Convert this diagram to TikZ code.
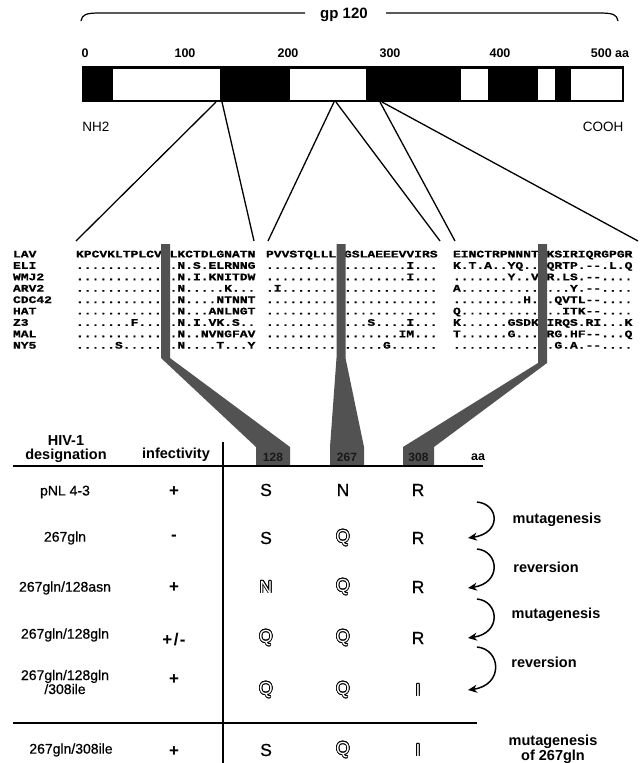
\documentclass[tikz,border=0pt]{standalone}
\usepackage{fontspec}
\setmainfont{Liberation Sans}
\newfontfamily\seqfont{Liberation Mono}[FakeStretch=1.3,BoldFeatures={FakeBold=1.2}]
\newfontfamily\heavyfont{Liberation Sans}[FakeBold=0.6]
\usetikzlibrary{arrows.meta}

% letter drawn as an outline: black copies around, white fill on top
\newcommand\outlined[1]{\leavevmode\rlap{\foreach \ang in {0,22.5,...,337.5}{\rlap{\kern\fpeval{round(0.75*cosd(\ang),3)}pt\raisebox{\fpeval{round(0.75*sind(\ang),3)}pt}{#1}}}}\textcolor{white}{#1}}

% one aligned sequence row: index, isolate name, three blocks
\newcommand\seqrow[5]{%
  \node[seq] (nm#1) at (13,{257.4+11.4*#1}) {#2};
  \node[seq] (ba#1) at (76,{257.4+11.4*#1}) {#3};
  \node[seq] (bb#1) at (266,{257.4+11.4*#1}) {#4};
  \node[seq] (bc#1) at (453,{257.4+11.4*#1}) {#5};
}

\begin{document}
\begin{tikzpicture}[x=1pt,y=-1pt,
  every node/.style={inner sep=0pt,outer sep=0pt},
  seq/.style={font=\seqfont\bfseries\fontsize{10}{10}\selectfont,anchor=base west},
  axislbl/.style={font=\bfseries\fontsize{12.5}{12.5}\selectfont},
  term/.style={font=\fontsize{13.5}{13.5}\selectfont},
  title/.style={font=\bfseries\fontsize{15}{15}\selectfont},
  link/.style={line width=1.3pt},
  band/.style={fill=black!68},
  celllbl/.style={font=\bfseries\fontsize{12}{12}\selectfont,text=black!90},
  hdr/.style={font=\bfseries\fontsize{14.5}{14.5}\selectfont,align=center},
  rowlbl/.style={font=\heavyfont\fontsize{14}{14}\selectfont,align=center},
  infect/.style={font=\bfseries\fontsize{17}{17}\selectfont},
  res/.style={font=\heavyfont\fontsize{17.5}{17.5}\selectfont},
  hres/.style={font=\fontsize{17.5}{17.5}\selectfont},
  rule/.style={line width=2pt},
  cyclearrow/.style={line width=1.5pt,-{Stealth[length=9pt,width=8pt]}},
  note/.style={font=\bfseries\fontsize{14.5}{15}\selectfont,align=center},
]
\useasboundingbox (0,0) rectangle (642,763);

% ---- gp120 brace
\node[title] (gp) at (344,15) {gp 120};
\coordinate (brl) at (81,21);
\coordinate (brr) at (618,21);
\coordinate (gpl) at (305,13);
\coordinate (gpr) at (386,13);
\draw[line width=1.2pt] (brl) .. controls (82,14.5) and (86,13) .. (100,13) -- (gpl);
\draw[line width=1.2pt] (gpr) -- (599,13) .. controls (613,13) and (617,14.5) .. (brr);

% ---- scale
\node[axislbl] (s0) at (85,53) {0};
\node[axislbl] (s100) at (185,53) {100};
\node[axislbl] (s200) at (288,53) {200};
\node[axislbl] (s300) at (390,53) {300};
\node[axislbl] (s400) at (500,53) {400};
\node[axislbl] (s500) at (610,53) {500 aa};

% ---- gp120 bar with variable (black) and conserved (white) regions
\fill (82,66) rectangle (624,102);
\fill[white] (113,68.5) rectangle (220,99.5);
\fill[white] (290,68.5) rectangle (366,99.5);
\fill[white] (461,68.5) rectangle (488,99.5);
\fill[white] (538,68.5) rectangle (555,99.5);
\fill[white] (571,68.5) rectangle (622,99.5);
\node[term] (nterm) at (96,127) {NH2};
\node[term] (cterm) at (603,127) {COOH};

% ---- links from the bar to the sequence blocks
\coordinate (t1) at (216,102); \coordinate (e1) at (76,241);
\coordinate (t2) at (222,102); \coordinate (e2) at (254,241);
\coordinate (t3) at (334,102); \coordinate (e3) at (268,241);
\coordinate (t4) at (336,102); \coordinate (e4) at (440,241);
\coordinate (t5) at (380,102); \coordinate (e5) at (455,241);
\coordinate (t6) at (382,102); \coordinate (e6) at (638,241);
\foreach \k in {1,...,6} \draw[link] (t\k) -- (e\k);

% ---- sequence alignment
\seqrow{0}{LAV}{{KPCVKLTPLCV}{S}{LKCTDLGNATN}}{{PVVSTQLLL}{N}{GSLAEEEVVIRS}}{{EINCTRPNNNT}{R}{KSIRIQRGPGR}}
\seqrow{1}{ELI}{{...........}{.}{.N.S.ELRNNG}}{{.........}{.}{........I...}}{{K.T.A..YQ..}{.}{QRTP.--.L.Q}}
\seqrow{2}{WMJ2}{{...........}{.}{.N.I.KNITDW}}{{.........}{.}{........I...}}{{.......Y..V}{.}{R.LS.--....}}
\seqrow{3}{ARV2}{{...........}{.}{.N.....K...}}{{.I.......}{.}{............}}{{A..........}{.}{...Y.--....}}
\seqrow{4}{CDC42}{{...........}{.}{.N....NTNNT}}{{.........}{.}{............}}{{.........H.}{.}{.QVTL--....}}
\seqrow{5}{HAT}{{...........}{.}{.N...ANLNGT}}{{.........}{.}{............}}{{Q..........}{.}{..ITK--....}}
\seqrow{6}{Z3}{{.......F...}{.}{.N.I.VK.S..}}{{.........}{.}{...S....I...}}{{K......GSDK}{.}{IRQS.RI...K}}
\seqrow{7}{MAL}{{...........}{.}{.N..NVNGFAV}}{{.........}{.}{.......IM...}}{{T......G...}{.}{RG.HF--...Q}}
\seqrow{8}{NY5}{{.....S.....}{.}{.N....T...Y}}{{.........}{.}{.....G......}}{{...........}{.}{.G.A.--....}}

% ---- highlighted positions funnelled down to the table columns
\fill[band] (161,244) -- (170,244) -- (170,358) -- (290,447) -- (290,466)
  -- (256,466) -- (256,447) -- (161,358) -- cycle;
\fill[band] (336.5,244) -- (345.5,244) -- (345.5,358) -- (364,447) -- (364,466)
  -- (330,466) -- (330,447) -- (336.5,358) -- cycle;
\fill[band] (538,244) -- (547,244) -- (547,363) -- (434,447) -- (434,466)
  -- (403,466) -- (403,447) -- (538,363) -- cycle;
\node[celllbl] (c128) at (273,457) {128};
\node[celllbl] (c267) at (347,457) {267};
\node[celllbl] (c308) at (418.5,457) {308};
\node[axislbl] (aa) at (478,457) {aa};

% ---- table
\node[hdr] (hdes) at (66,449) {HIV-1\\designation};
\node[hdr] (hinf) at (176,455) {infectivity};
\coordinate (vtop) at (223,442); \coordinate (vbot) at (223,763);
\coordinate (h1l) at (13,466); \coordinate (h1r) at (483,466);
\coordinate (h2l) at (13,723); \coordinate (h2r) at (477,723);
\draw[rule] (vtop) -- (vbot);
\draw[rule] (h1l) -- (h1r);
\draw[rule] (h2l) -- (h2r);

\node[rowlbl] (r1) at (65,492) {pNL 4-3};
\node[rowlbl] (r2) at (65,538) {267gln};
\node[rowlbl] (r3) at (65,588) {267gln/128asn};
\node[rowlbl] (r4) at (65,635) {267gln/128gln};
\node[rowlbl] (r5) at (65,682) {267gln/128gln\\/308ile};
\node[rowlbl] (r6) at (71,750) {267gln/308ile};

\node[infect] (i1) at (174,492) {+};
\node[infect] (i2) at (174,538) {-};
\node[infect] (i3) at (174,588) {+};
\node[infect] (i4) at (174,640) {+\kern1.5pt/\kern1.5pt-};
\node[infect] (i5) at (174,680) {+};
\node[infect] (i6) at (174,752) {+};

\node[res] (a1) at (266,490) {S};
\node[res] (b1) at (343,490) {N};
\node[res] (c1) at (418,490) {R};
\node[res] (a2) at (266,538) {S};
\node[hres] (b2) at (343,538) {\outlined{Q}};
\node[res] (c2) at (418,538) {R};
\node[hres] (a3) at (266,587) {\outlined{N}};
\node[hres] (b3) at (343,587) {\outlined{Q}};
\node[res] (c3) at (418,587) {R};
\node[hres] (a4) at (266,638) {\outlined{Q}};
\node[hres] (b4) at (343,638) {\outlined{Q}};
\node[res] (c4) at (418,638) {R};
\node[hres] (a5) at (266,690) {\outlined{Q}};
\node[hres] (b5) at (343,690) {\outlined{Q}};
\node[hres] (c5) at (418,690) {\outlined{I}};
\node[res] (a6) at (266,750) {S};
\node[hres] (b6) at (343,750) {\outlined{Q}};
\node[hres] (c6) at (418,750) {\outlined{I}};

% ---- mutagenesis / reversion steps
\coordinate (m1s) at (477,502); \coordinate (m1e) at (468,538);
\coordinate (m2s) at (477,549); \coordinate (m2e) at (468,588);
\coordinate (m3s) at (477,599); \coordinate (m3e) at (468,638);
\coordinate (m4s) at (477,647); \coordinate (m4e) at (468,690);
\draw[cyclearrow] (m1s) .. controls (499,504) and (502,533) .. (m1e);
\draw[cyclearrow] (m2s) .. controls (499,551) and (502,583) .. (m2e);
\draw[cyclearrow] (m3s) .. controls (499,601) and (502,633) .. (m3e);
\draw[cyclearrow] (m4s) .. controls (501,649) and (504,685) .. (m4e);
\node[note] (n1) at (557,520) {mutagenesis};
\node[note] (n2) at (546,567) {reversion};
\node[note] (n3) at (556,615) {mutagenesis};
\node[note] (n4) at (544,662) {reversion};
\node[note] (n5) at (553,749) {mutagenesis\\of 267gln};
\end{tikzpicture}
\end{document}
